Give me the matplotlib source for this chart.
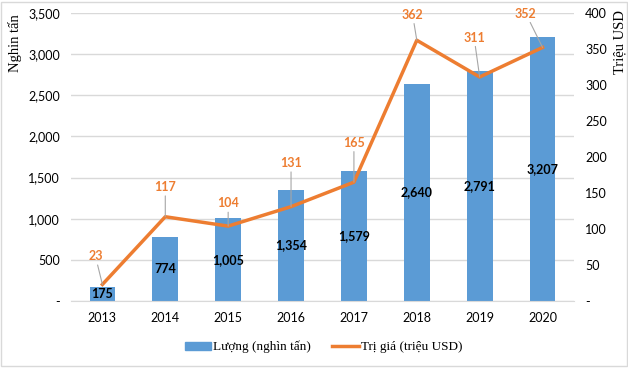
import numpy as np
import matplotlib
matplotlib.use("Agg")
import matplotlib.pyplot as plt
from matplotlib.ticker import FuncFormatter

years = ["2013", "2014", "2015", "2016", "2017", "2018", "2019", "2020"]
volume = [175, 774, 1005, 1354, 1579, 2640, 2791, 3207]      # nghin tan
value = [23, 117, 104, 131, 165, 362, 311, 352]              # trieu USD
# label offsets (points) for the orange labels
val_offsets = [(-5, 16), (0, 17), (0, 12), (0, 27), (0, 24), (-3, 14), (-4, 24), (-12, 20)]

bar_color = "#5b9bd5"
line_color = "#ed7d31"
tick_font = "Lato"
serif = "Liberation Serif"

fig = plt.figure(figsize=(6.28, 3.68), dpi=100)
ax = fig.add_axes([0.113, 0.182, 0.801, 0.783])
ax2 = ax.twinx()

x = np.arange(len(years))
ax.bar(x, volume, width=0.41, color=bar_color, zorder=2)
ax.set_xlim(-0.5, len(years) - 0.5)
ax.set_ylim(0, 3500)
ax.set_yticks(np.arange(0, 3501, 500))
fmt = FuncFormatter(lambda v, p: "-" if v == 0 else f"{int(v):,}")
ax.yaxis.set_major_formatter(fmt)
ax.set_xticks(x)
ax.set_xticklabels(years)
ax.grid(axis="y", color="#d9d9d9", linewidth=1, zorder=0)
ax.set_axisbelow(True)
for s in ["top", "right", "left"]:
    ax.spines[s].set_visible(False)
ax.spines["bottom"].set_color("#d9d9d9")
ax.tick_params(length=0, labelsize=9, pad=8)
for lab in ax.get_xticklabels() + ax.get_yticklabels():
    lab.set_fontfamily(tick_font)

for xi, v in zip(x, volume):
    ax.text(xi, v / 2, f"{v:,}", ha="center", va="center", fontsize=9,
            fontweight="bold", fontfamily=tick_font, color="black", zorder=4)

ax2.plot(x, value, color=line_color, linewidth=2.5, zorder=3)
ax2.set_ylim(0, 400)
ax2.set_yticks(np.arange(0, 401, 50))
ax2.yaxis.set_major_formatter(FuncFormatter(lambda v, p: "-" if v == 0 else f"{int(v)}"))
for s in ax2.spines.values():
    s.set_visible(False)
ax2.tick_params(length=0, labelsize=9, pad=8)
for lab in ax2.get_yticklabels():
    lab.set_fontfamily(tick_font)

# axis titles sit at the top of each side
fig.text(15 / 628, 1 - 14 / 368, "Nghin tấn", rotation=90, ha="center", va="top",
         fontsize=10.5, fontfamily=serif)
fig.text(620 / 628, 1 - 10 / 368, "Triệu USD", rotation=90, ha="center", va="top",
         fontsize=10.5, fontfamily=serif)

for xi, v, off in zip(x, value, val_offsets):
    ax2.annotate(str(v), xy=(xi, v), xytext=off, textcoords="offset points",
                 ha="center", va="bottom", fontsize=9, fontweight="bold",
                 fontfamily=tick_font, color=line_color,
                 arrowprops=dict(arrowstyle="-", color="#a6a6a6", lw=0.8,
                                 shrinkA=0, shrinkB=0))

handles = [plt.Rectangle((0, 0), 1, 1, color=bar_color),
           plt.Line2D([0], [0], color=line_color, linewidth=2.5)]
fig.legend(handles, ["Lượng (nghìn tấn)", "Trị giá (triệu USD)"],
           loc="center", bbox_to_anchor=(0.515, 0.057), ncol=2, frameon=False,
           prop={"family": serif, "size": 9.5}, handlelength=2.0,
           handleheight=0.55, columnspacing=1.6, handletextpad=0.15)

fig.patches.append(plt.Rectangle((0.002, 0.005), 0.996, 0.99, transform=fig.transFigure,
                                 fill=False, edgecolor="#d9d9d9", linewidth=1))

fig.savefig("out.png", dpi=100)
